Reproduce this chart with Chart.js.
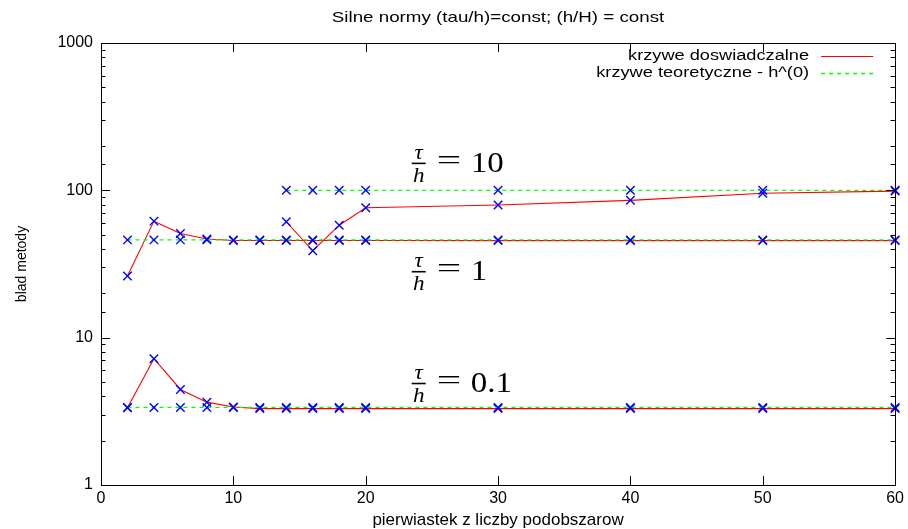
<!DOCTYPE html>
<html>
<head>
<meta charset="utf-8">
<script src="https://cdn.jsdelivr.net/npm/chart.js@4.4.0/dist/chart.umd.min.js"></script>
<style>
  html, body { margin: 0; padding: 0; background: #fff; }
  #wrap { width: 908px; height: 529px; }
</style>
</head>
<body>
<div id="wrap"><canvas id="chart"></canvas></div>
<script>
// x values (pierwiastek z liczby podobszarow)
const xAll = [2, 4, 6, 8, 10, 12, 14, 16, 18, 20, 30, 40, 50, 60];
const xFrom14 = [14, 16, 18, 20, 30, 40, 50, 60];

// tau/h = 0.1
const exp01 = [3.35, 7.2, 4.45, 3.65, 3.38, 3.3, 3.3, 3.3, 3.3, 3.3, 3.3, 3.3, 3.3, 3.3];
const theo01 = [3.36, 3.36, 3.36, 3.36, 3.36, 3.36, 3.36, 3.36, 3.36, 3.36, 3.36, 3.36, 3.36, 3.36];
// tau/h = 1
const exp1 = [26.2, 61.8, 51, 46.7, 45.7, 45.7, 45.7, 45.7, 45.7, 45.7, 45.6, 45.6, 45.6, 45.6];
const theo1 = [46.1, 46.1, 46.1, 46.1, 46.1, 46.1, 46.1, 46.1, 46.1, 46.1, 46.1, 46.1, 46.1, 46.1];
// tau/h = 10
const exp10 = [61.2, 38.9, 58, 76.2, 79.5, 85.5, 95.6, 98.8];
const theo10 = [100, 100, 100, 100, 100, 100, 100, 100];

const yMajorTicks = [1, 10, 100, 1000];
const legendLabels = ['krzywe doswiadczalne', 'krzywe teoretyczne - h^(0)'];

// tau/h annotations, placed in data coordinates
const ratioLabels = ['10', '1', '0.1'];
const ratioX = [23.4, 23.4, 23.4];
const ratioY = [156, 28.7, 5.0];

const RED = '#ff0000';
const GREEN = '#00ff00';
const BLUE = '#0000ff';

const pts = (xs, ys) => xs.map((x, i) => ({ x: x, y: ys[i] }));

function theoSet(xs, ys) {
  return {
    data: pts(xs, ys),
    borderColor: GREEN,
    borderWidth: 1.3,
    borderDash: [4, 4],
    pointStyle: 'crossRot',
    pointRadius: 6,
    pointBorderColor: BLUE,
    pointBorderWidth: 1.4,
    tension: 0,
    clip: false
  };
}
function expSet(xs, ys) {
  return {
    data: pts(xs, ys),
    borderColor: RED,
    borderWidth: 1.1,
    pointStyle: 'crossRot',
    pointRadius: 6,
    pointBorderColor: BLUE,
    pointBorderWidth: 1.4,
    tension: 0,
    clip: false
  };
}

function stretchedText(ctx, text, x, y, font, sx, align) {
  ctx.save();
  ctx.translate(x, y);
  ctx.scale(sx, 1);
  ctx.font = font;
  ctx.textAlign = align;
  ctx.fillText(text, 0, 0);
  ctx.restore();
}

const framePlugin = {
  id: 'frame',
  afterDraw(chart) {
    const ctx = chart.ctx;
    const a = chart.chartArea;
    const xs = chart.scales.x;
    const ys = chart.scales.y;
    ctx.save();
    ctx.strokeStyle = '#000';
    ctx.lineWidth = 1;
    ctx.strokeRect(Math.round(a.left) + 0.5, Math.round(a.top) + 0.5,
      Math.round(a.right - a.left), Math.round(a.bottom - a.top));

    // inward ticks, mirrored like gnuplot
    ctx.beginPath();
    xs.ticks.forEach(t => {
      const px = Math.round(xs.getPixelForValue(t.value)) + 0.5;
      ctx.moveTo(px, a.bottom); ctx.lineTo(px, a.bottom - 9);
      ctx.moveTo(px, a.top); ctx.lineTo(px, a.top + 9);
    });
    ys.ticks.forEach(t => {
      const major = yMajorTicks.includes(t.value);
      const len = major ? 9 : 4.5;
      const py = Math.round(ys.getPixelForValue(t.value)) + 0.5;
      ctx.moveTo(a.left, py); ctx.lineTo(a.left + len, py);
      ctx.moveTo(a.right, py); ctx.lineTo(a.right - len, py);
    });
    ctx.stroke();

    // title
    ctx.fillStyle = '#000';
    ctx.textBaseline = 'middle';
    stretchedText(ctx, 'Silne normy (tau/h)=const; (h/H) = const',
      (a.left + a.right) / 2, 18, '15px "Liberation Sans", Arial, sans-serif', 1.25, 'center');

    // legend
    const styles = [{ c: RED, d: [], w: 1.1 }, { c: GREEN, d: [4, 4], w: 1.3 }];
    legendLabels.forEach((lab, i) => {
      const y = a.top + 13 + i * 17;
      stretchedText(ctx, lab, a.right - 86, y, '14px "Liberation Sans", Arial, sans-serif', 1.3, 'right');
      ctx.beginPath();
      ctx.strokeStyle = styles[i].c;
      ctx.lineWidth = styles[i].w;
      ctx.setLineDash(styles[i].d);
      ctx.moveTo(a.right - 74, Math.round(y) + 0.5);
      ctx.lineTo(a.right - 22, Math.round(y) + 0.5);
      ctx.stroke();
    });
    ctx.setLineDash([]);

    // tau/h = ... labels
    ratioLabels.forEach((lab, i) => {
      const px = xs.getPixelForValue(ratioX[i]);
      const py = ys.getPixelForValue(ratioY[i]);
      ctx.fillStyle = '#000';
      ctx.strokeStyle = '#000';
      ctx.lineWidth = 1.6;
      ctx.beginPath();
      ctx.moveTo(px + 1, py + 1.5);
      ctx.lineTo(px + 15, py + 1.5);
      ctx.stroke();
      ctx.textBaseline = 'alphabetic';
      stretchedText(ctx, 'τ', px + 8, py - 3, 'italic 21px "Liberation Serif", "DejaVu Serif", serif', 1.1, 'center');
      stretchedText(ctx, 'h', px + 8, py + 20, 'italic 21px "Liberation Serif", "DejaVu Serif", serif', 1.1, 'center');
      stretchedText(ctx, '=', px + 26, py + 7, '28px "Liberation Serif", "DejaVu Serif", serif', 1.55, 'left');
      stretchedText(ctx, lab, px + 60, py + 10, '30px "Liberation Serif", "DejaVu Serif", serif', 1.1, 'left');
    });
    ctx.restore();
  }
};

new Chart(document.getElementById('chart'), {
  type: 'line',
  data: {
    datasets: [
      theoSet(xAll, theo01),
      theoSet(xAll, theo1),
      theoSet(xFrom14, theo10),
      expSet(xAll, exp01),
      expSet(xAll, exp1),
      expSet(xFrom14, exp10)
    ]
  },
  options: {
    responsive: true,
    maintainAspectRatio: false,
    animation: false,
    layout: { padding: { top: 43, right: 9, left: 0, bottom: 0 } },
    plugins: {
      legend: { display: false },
      title: { display: false },
      tooltip: { enabled: false }
    },
    scales: {
      x: {
        type: 'linear',
        min: 0,
        max: 60,
        grid: { display: false, drawTicks: false },
        border: { display: false },
        ticks: {
          stepSize: 10,
          padding: 4,
          color: '#000',
          font: { family: '"Liberation Sans", Arial, sans-serif', size: 16 }
        },
        title: {
          display: true,
          text: 'pierwiastek z liczby podobszarow',
          color: '#000',
          font: { family: '"Liberation Sans", Arial, sans-serif', size: 17, lineHeight: 1 },
          padding: 0
        },
        afterFit(scale) { scale.height = 44; }
      },
      y: {
        type: 'logarithmic',
        min: 1,
        max: 1000,
        grid: { display: false, drawTicks: false },
        border: { display: false },
        ticks: {
          autoSkip: false,
          padding: 8,
          color: '#000',
          font: { family: '"Liberation Sans", Arial, sans-serif', size: 16 },
          callback: v => (yMajorTicks.includes(v) ? String(v) : '')
        },
        title: {
          display: true,
          text: 'blad metody',
          color: '#000',
          font: { family: '"Liberation Sans", Arial, sans-serif', size: 14 },
          padding: { top: 14, bottom: 0 }
        },
        afterFit(scale) { scale.width = 101; }
      }
    }
  },
  plugins: [framePlugin]
});
</script>
</body>
</html>
